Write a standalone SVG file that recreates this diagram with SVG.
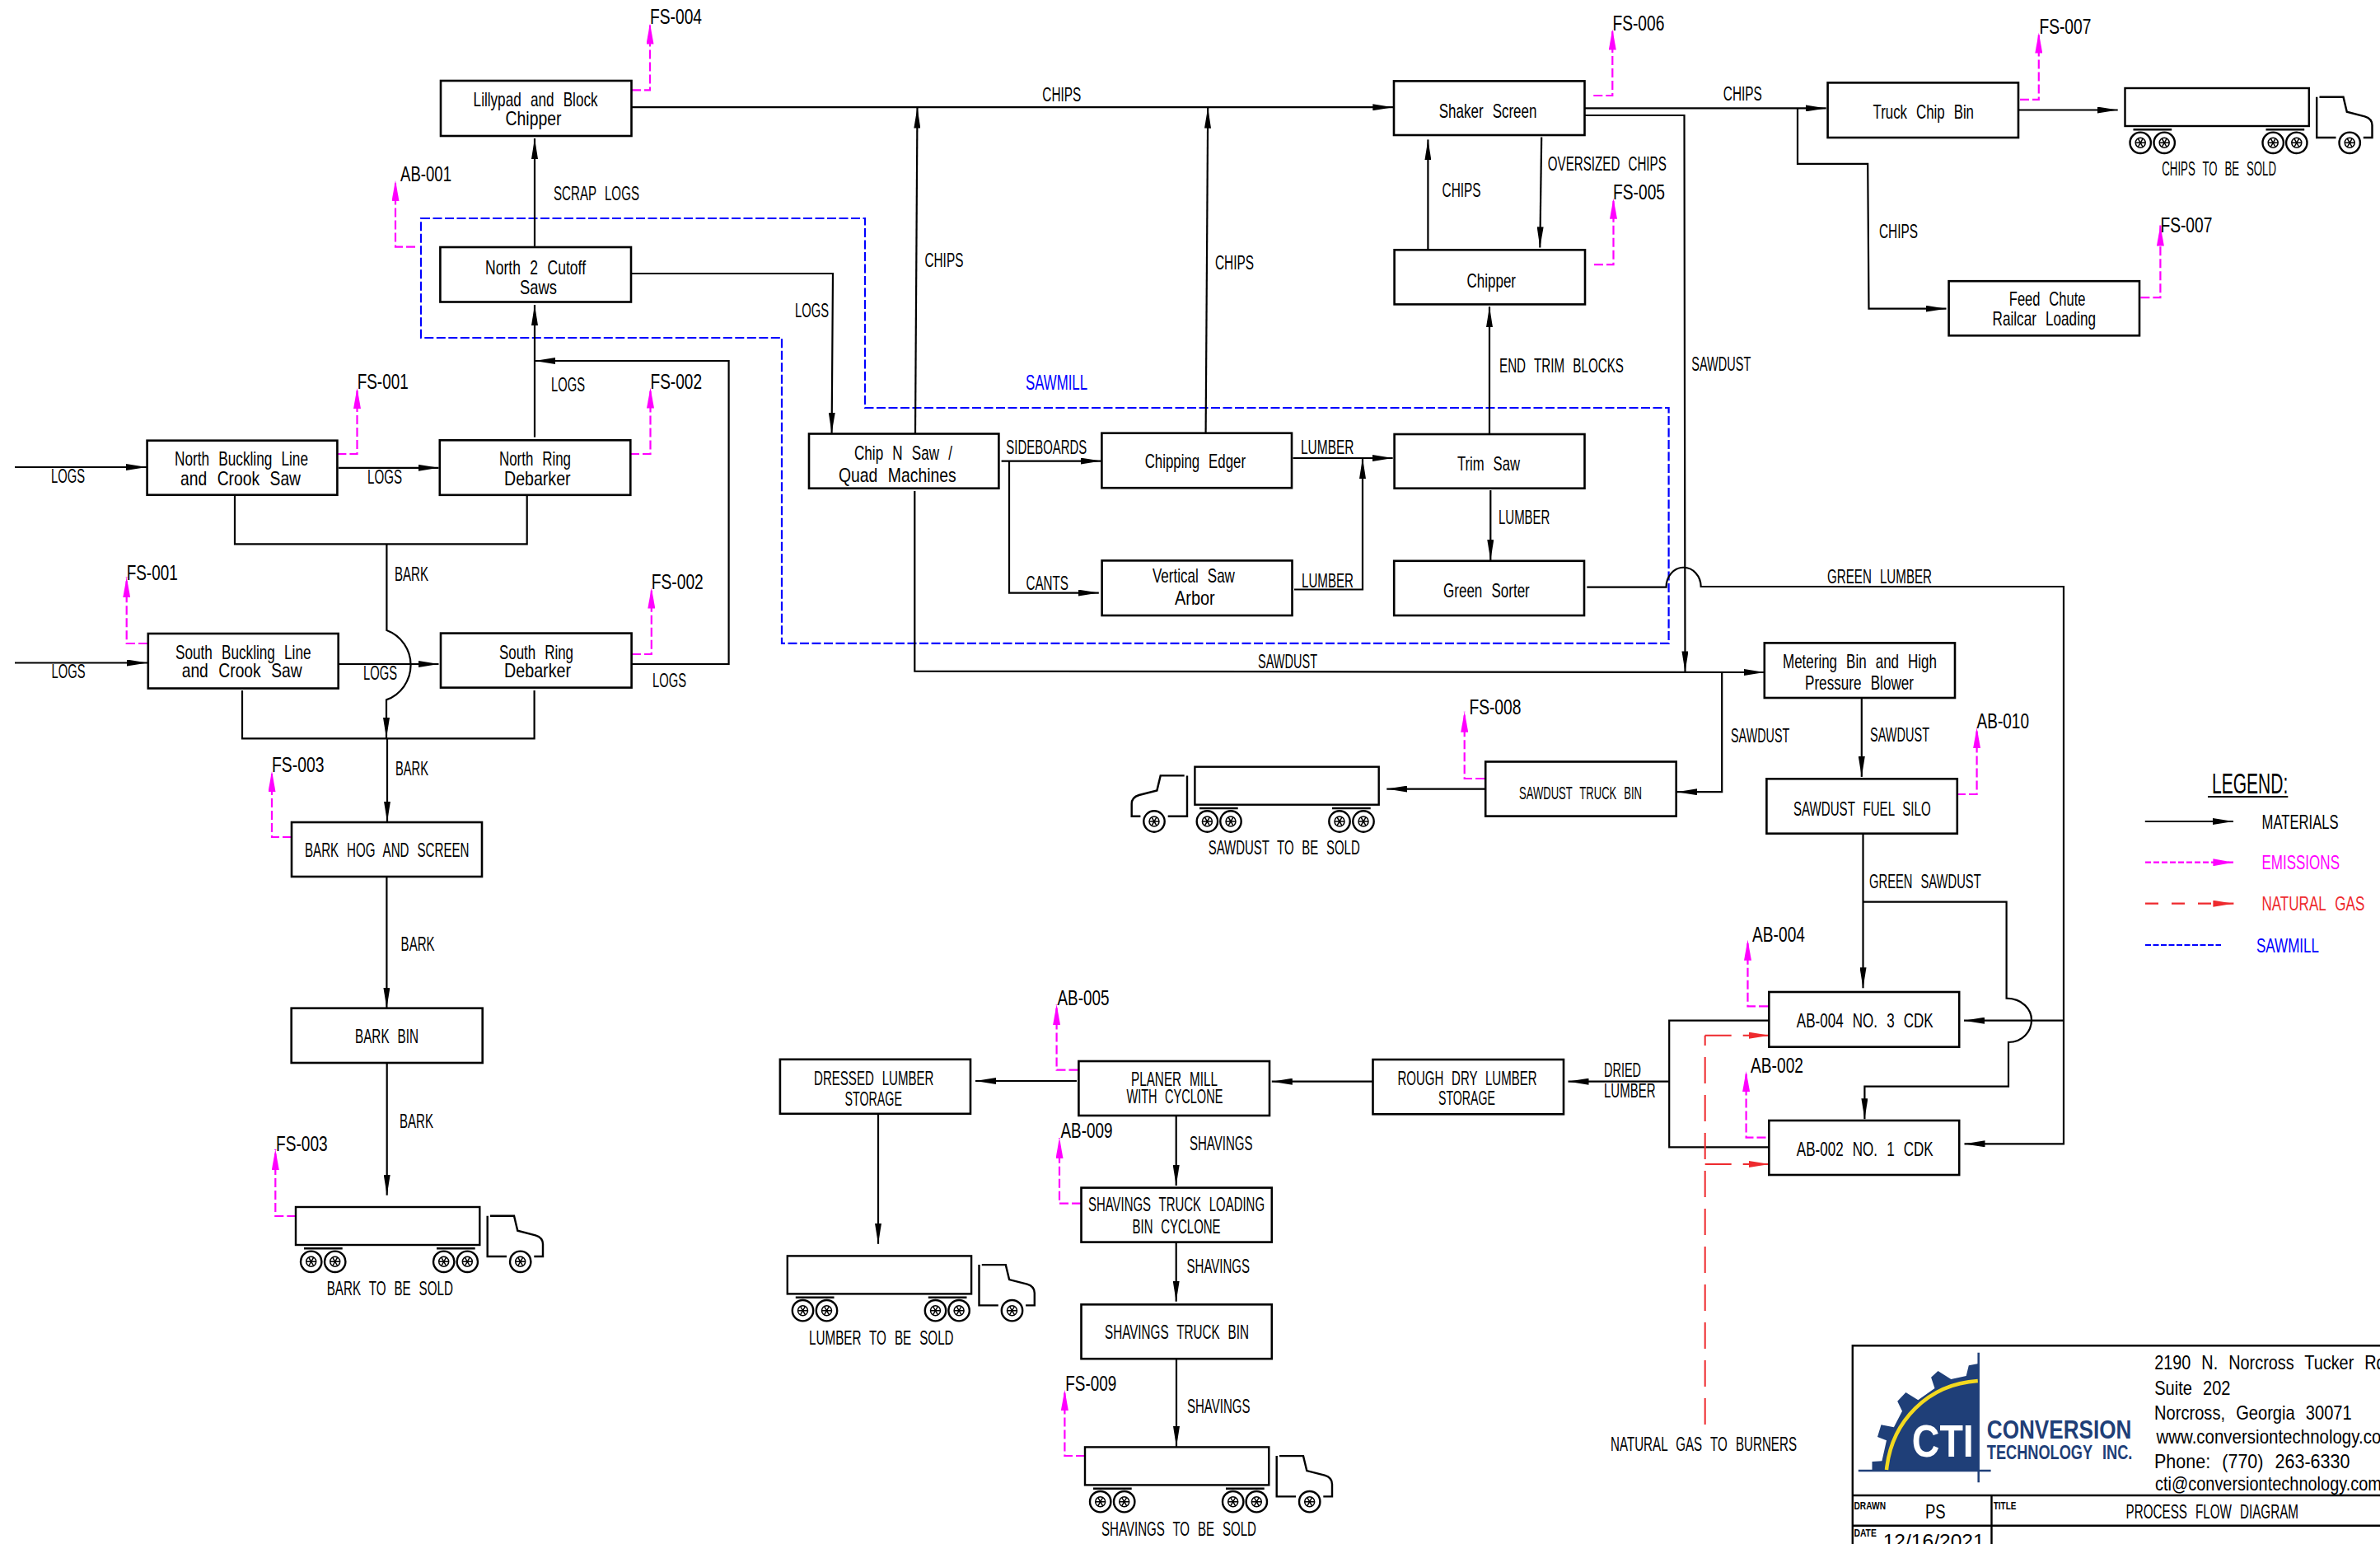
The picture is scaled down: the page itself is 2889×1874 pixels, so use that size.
<svg xmlns="http://www.w3.org/2000/svg" width="2889" height="1874" viewBox="0 0 2889 1874">
<style>
text{font-family:"Liberation Sans",Arial,sans-serif;font-size:24px;fill:#000;word-spacing:9px}
.fs{font-size:25px}
.sm{font-size:22px}
.lbl{font-size:23px}
.box{fill:#fff;stroke:#000;stroke-width:2.6}
.ln{fill:none;stroke:#000;stroke-width:2.2}
.a{marker-end:url(#ah)}
.em{fill:none;stroke:#f0f;stroke-width:2.2;stroke-dasharray:11 4;marker-end:url(#am)}
.ng{fill:none;stroke:#ee2a2e;stroke-width:2;stroke-dasharray:32 14}
.blue{fill:none;stroke:#00f;stroke-width:2.2;stroke-dasharray:11 3.5}
.tk{fill:none;stroke:#000;stroke-width:2.4}
.thin{fill:none;stroke:#000;stroke-width:1.5}
.tb{fill:none;stroke:#000;stroke-width:2.4}
.logo{fill:#1f3f78;stroke:none}
</style>
<defs>
<marker id="ah" markerUnits="userSpaceOnUse" markerWidth="25" markerHeight="8" refX="25" refY="4" orient="auto"><path d="M0 0L25 4L0 8z" fill="#000"/></marker>
<marker id="am" markerUnits="userSpaceOnUse" markerWidth="25" markerHeight="9" refX="25" refY="4.5" orient="auto"><path d="M0 0L25 4.5L0 9z" fill="#f0f"/></marker>
<marker id="ar" markerUnits="userSpaceOnUse" markerWidth="25" markerHeight="8" refX="25" refY="4" orient="auto"><path d="M0 0L25 4L0 8z" fill="#ee2a2e"/></marker>
<g id="wheel"><circle r="12.7" class="tk"/><circle r="6" class="thin"/><path d="M-6 0H6M-3 -5.2L3 5.2M3 -5.2L-3 5.2" class="thin"/></g>
<g id="truck">
<rect x="0" y="0" width="223.3" height="46" class="tk"/>
<path d="M10 50.3H56.7M171 50.3H217.7" class="tk"/>
<use href="#wheel" x="18.7" y="66.3"/><use href="#wheel" x="47.7" y="66.3"/><use href="#wheel" x="179.7" y="66.3"/><use href="#wheel" x="208.3" y="66.3"/>
<path d="M232.7 10.7V60H256M289.3 60H300V45Q300 37 291 34.3L269.3 28.7L265 10.7H236" class="tk"/>
<use href="#wheel" x="272.7" y="66.3"/>
</g>
</defs>
<rect width="2889" height="1874" fill="#fff"/>

<g id="boundary"><path class="blue" d="M511 265H1050V495H2025.6V780.8H949V410H511Z"/></g>

<g id="connectors">
<path class="ln a" d="M18 567H178"/>
<path class="ln a" d="M411 567.8H532.5"/>
<path class="ln a" d="M18 804.5H179"/>
<path class="ln a" d="M411 806H532.5"/>
<path class="ln a" d="M649 530.6V370"/>
<path class="ln a" d="M649 298.8V168"/>
<path class="ln a" d="M767 806H884.6V438H649"/>
<path class="ln a" d="M766 332H1011L1009.6 525.7"/>
<path class="ln" d="M285 601V660.4H639.7V601"/>
<path class="ln a" d="M469.4 660V765A45 45 0 0 1 469 849.4V896"/>
<path class="ln" d="M294 838V896.3H648.6V838"/>
<path class="ln a" d="M470 896V997.6"/>
<path class="ln a" d="M469.4 1064V1223.7"/>
<path class="ln a" d="M469.7 1290V1450.7"/>
<path class="ln a" d="M766.5 130.2H1691.3"/>
<path class="ln a" d="M1111 526.5L1113.5 130.6"/>
<path class="ln a" d="M1463.6 525.7L1466.2 130.6"/>
<path class="ln a" d="M1733.4 302V169.4"/>
<path class="ln a" d="M1871.2 166.5L1869.3 300.4"/>
<path class="ln a" d="M1808 526.5V372.2"/>
<path class="ln a" d="M1215.6 559.6H1336.7"/>
<path class="ln a" d="M1225 559.6V719.6H1333.8"/>
<path class="ln a" d="M1569.5 556H1690.7"/>
<path class="ln a" d="M1571 715.5H1654V556"/>
<path class="ln a" d="M1809.3 595V680"/>
<path class="ln a" d="M1110.3 596V814.7L2141.8 816"/>
<path class="ln a" d="M1923 131.4H2216.7"/>
<path class="ln a" d="M1923 140H2044.5L2045.5 815.5"/>
<path class="ln a" d="M2182 131V198.8H2267.2L2268.5 374.7H2362.5"/>
<path class="ln a" d="M2450 133.5H2570.7"/>
<path class="ln a" d="M1926.3 712.6H2022.6A21 23.5 0 0 1 2064.7 712H2505V1388.3H2384.5"/>
<path class="ln a" d="M2505 1238.7H2384"/>
<path class="ln a" d="M2090.2 816V961.2H2035.3"/>
<path class="ln a" d="M1803 957.6H1683.3"/>
<path class="ln a" d="M2259.8 848V942.9"/>
<path class="ln a" d="M2261.5 1012V1199.3"/>
<path class="ln a" d="M2261.5 1094.7H2435.6V1211.7C2455 1212 2466 1225 2466 1238C2466 1252 2455 1265 2438 1265V1318.7H2263.4V1358.3"/>
<path class="ln" d="M2147 1238.7H2026.2V1392.3H2147"/>
<path class="ln a" d="M2026.2 1312.7H1903.5"/>
<path class="ln a" d="M1666.5 1312.7H1543.8"/>
<path class="ln a" d="M1307 1312H1184"/>
<path class="ln a" d="M1066 1352V1509.8"/>
<path class="ln a" d="M1427.7 1354V1439"/>
<path class="ln a" d="M1427.7 1507.6V1579.7"/>
<path class="ln a" d="M1428 1649.2V1756"/>
<path class="em" d="M767 109.4H789V28.6"/>
<path class="em" d="M504 299.6H480V219"/>
<path class="em" d="M409.4 551H433.5V471"/>
<path class="em" d="M765 551H789.5V470.6"/>
<path class="em" d="M179 781H153.7V700.4"/>
<path class="em" d="M767 794H790.8V713.5"/>
<path class="em" d="M354 1016H330V936"/>
<path class="em" d="M359.3 1476H334.3V1395"/>
<path class="em" d="M1934.3 116H1957.3V35.5"/>
<path class="em" d="M1935 321.2H1958.5V240.8"/>
<path class="em" d="M2452 120.8H2474.8V39.6"/>
<path class="em" d="M2598.4 361.2H2622.4V273.5"/>
<path class="em" d="M1802 945H1777.7V863.7"/>
<path class="em" d="M2375 964H2399.6V883.3"/>
<path class="em" d="M2146 1221.3H2121.5V1140.7"/>
<path class="em" d="M2143.5 1380.7H2119.6V1300"/>
<path class="em" d="M1308.5 1298.6H1282.6V1219"/>
<path class="em" d="M1312 1460.7H1286V1381"/>
<path class="em" d="M1317 1767H1292.4V1686.9"/>
<path class="ng" d="M2069.7 1729V1256.7"/>
<path class="ng" d="M2069.7 1256.7H2148" style="marker-end:url(#ar)"/>
<path class="ng" d="M2069.7 1413H2148" style="marker-end:url(#ar)"/>
</g>

<g id="connector-labels">
<text class="lbl" x="62" y="586" textLength="41" lengthAdjust="spacingAndGlyphs">LOGS</text>
<text class="lbl" x="446" y="587" textLength="42" lengthAdjust="spacingAndGlyphs">LOGS</text>
<text class="lbl" x="62.5" y="823" textLength="41" lengthAdjust="spacingAndGlyphs">LOGS</text>
<text class="lbl" x="441" y="824.5" textLength="41" lengthAdjust="spacingAndGlyphs">LOGS</text>
<text class="lbl" x="792" y="833.5" textLength="41" lengthAdjust="spacingAndGlyphs">LOGS</text>
<text class="lbl" x="669" y="475" textLength="41" lengthAdjust="spacingAndGlyphs">LOGS</text>
<text class="lbl" x="965" y="384.5" textLength="41" lengthAdjust="spacingAndGlyphs">LOGS</text>
<text class="lbl" x="672" y="243" textLength="104" lengthAdjust="spacingAndGlyphs">SCRAP LOGS</text>
<text class="lbl" x="479" y="705" textLength="41" lengthAdjust="spacingAndGlyphs">BARK</text>
<text class="lbl" x="480" y="941" textLength="40" lengthAdjust="spacingAndGlyphs">BARK</text>
<text class="lbl" x="486.6" y="1153.5" textLength="41" lengthAdjust="spacingAndGlyphs">BARK</text>
<text class="lbl" x="485" y="1369" textLength="41" lengthAdjust="spacingAndGlyphs">BARK</text>
<text class="lbl" x="1265.3" y="122.9" textLength="47" lengthAdjust="spacingAndGlyphs">CHIPS</text>
<text class="lbl" x="1122.4" y="323.7" textLength="47" lengthAdjust="spacingAndGlyphs">CHIPS</text>
<text class="lbl" x="1475" y="326.5" textLength="47" lengthAdjust="spacingAndGlyphs">CHIPS</text>
<text class="lbl" x="1750.6" y="238.8" textLength="47" lengthAdjust="spacingAndGlyphs">CHIPS</text>
<text class="lbl" x="2091.8" y="122.4" textLength="47" lengthAdjust="spacingAndGlyphs">CHIPS</text>
<text class="lbl" x="2281" y="289" textLength="47" lengthAdjust="spacingAndGlyphs">CHIPS</text>
<text class="lbl" x="1878.8" y="207.3" textLength="144" lengthAdjust="spacingAndGlyphs">OVERSIZED CHIPS</text>
<text class="lbl" x="1820" y="452.2" textLength="151" lengthAdjust="spacingAndGlyphs">END TRIM BLOCKS</text>
<text class="lbl" x="1221.3" y="551.4" textLength="98" lengthAdjust="spacingAndGlyphs">SIDEBOARDS</text>
<text class="lbl" x="1579" y="551" textLength="64.5" lengthAdjust="spacingAndGlyphs">LUMBER</text>
<text class="lbl" x="1580" y="712.6" textLength="63" lengthAdjust="spacingAndGlyphs">LUMBER</text>
<text class="lbl" x="1819" y="636" textLength="62.4" lengthAdjust="spacingAndGlyphs">LUMBER</text>
<text class="lbl" x="1245.5" y="716" textLength="51.5" lengthAdjust="spacingAndGlyphs">CANTS</text>
<text class="lbl" x="1527" y="810.6" textLength="72" lengthAdjust="spacingAndGlyphs">SAWDUST</text>
<text class="lbl" x="2053.3" y="449.8" textLength="72" lengthAdjust="spacingAndGlyphs">SAWDUST</text>
<text class="lbl" x="2101" y="901.2" textLength="71.4" lengthAdjust="spacingAndGlyphs">SAWDUST</text>
<text class="lbl" x="2270" y="900.4" textLength="72" lengthAdjust="spacingAndGlyphs">SAWDUST</text>
<text class="lbl" x="2218" y="708" textLength="127" lengthAdjust="spacingAndGlyphs">GREEN LUMBER</text>
<text class="lbl" x="2269" y="1078.3" textLength="135.7" lengthAdjust="spacingAndGlyphs">GREEN SAWDUST</text>
<text class="lbl" x="1947" y="1306.7" textLength="45" lengthAdjust="spacingAndGlyphs">DRIED</text>
<text class="lbl" x="1947" y="1332.3" textLength="62.5" lengthAdjust="spacingAndGlyphs">LUMBER</text>
<text class="lbl" x="1444" y="1395.6" textLength="76.5" lengthAdjust="spacingAndGlyphs">SHAVINGS</text>
<text class="lbl" x="1440.6" y="1544.8" textLength="76.4" lengthAdjust="spacingAndGlyphs">SHAVINGS</text>
<text class="lbl" x="1441" y="1714.8" textLength="76.4" lengthAdjust="spacingAndGlyphs">SHAVINGS</text>
<text class="lbl" x="1955" y="1761" textLength="226" lengthAdjust="spacingAndGlyphs">NATURAL GAS TO BURNERS</text>
<text class="fs" x="1245" y="472.7" textLength="75" lengthAdjust="spacingAndGlyphs" style="fill:#00f">SAWMILL</text>
</g>

<g id="emission-labels">
<text class="fs" x="789" y="29.4" textLength="63" lengthAdjust="spacingAndGlyphs">FS-004</text>
<text class="fs" x="486" y="220" textLength="62" lengthAdjust="spacingAndGlyphs">AB-001</text>
<text class="fs" x="433.7" y="472" textLength="62" lengthAdjust="spacingAndGlyphs">FS-001</text>
<text class="fs" x="789.5" y="472" textLength="62.5" lengthAdjust="spacingAndGlyphs">FS-002</text>
<text class="fs" x="153.7" y="704" textLength="62" lengthAdjust="spacingAndGlyphs">FS-001</text>
<text class="fs" x="790.8" y="715" textLength="63" lengthAdjust="spacingAndGlyphs">FS-002</text>
<text class="fs" x="330" y="936.7" textLength="63.5" lengthAdjust="spacingAndGlyphs">FS-003</text>
<text class="fs" x="335" y="1397" textLength="62.7" lengthAdjust="spacingAndGlyphs">FS-003</text>
<text class="fs" x="1957.4" y="36.7" textLength="63" lengthAdjust="spacingAndGlyphs">FS-006</text>
<text class="fs" x="1958" y="241.6" textLength="63" lengthAdjust="spacingAndGlyphs">FS-005</text>
<text class="fs" x="2475.4" y="40.8" textLength="63" lengthAdjust="spacingAndGlyphs">FS-007</text>
<text class="fs" x="2622.4" y="282" textLength="63" lengthAdjust="spacingAndGlyphs">FS-007</text>
<text class="fs" x="1783.4" y="866.5" textLength="63" lengthAdjust="spacingAndGlyphs">FS-008</text>
<text class="fs" x="2399.6" y="884" textLength="63.4" lengthAdjust="spacingAndGlyphs">AB-010</text>
<text class="fs" x="2127" y="1142.7" textLength="64" lengthAdjust="spacingAndGlyphs">AB-004</text>
<text class="fs" x="2125" y="1302.3" textLength="64" lengthAdjust="spacingAndGlyphs">AB-002</text>
<text class="fs" x="1283.5" y="1219.8" textLength="63" lengthAdjust="spacingAndGlyphs">AB-005</text>
<text class="fs" x="1287.5" y="1381.4" textLength="63" lengthAdjust="spacingAndGlyphs">AB-009</text>
<text class="fs" x="1293.3" y="1688.2" textLength="62" lengthAdjust="spacingAndGlyphs">FS-009</text>
</g>

<g id="lillypad-chipper"><rect class="box" x="535" y="98" width="231.5" height="67"/><text x="574.6" y="128.6" textLength="151" lengthAdjust="spacingAndGlyphs">Lillypad and Block</text><text x="613.5" y="151.8" textLength="68" lengthAdjust="spacingAndGlyphs">Chipper</text></g>
<g id="north-2-cutoff"><rect class="box" x="534.4" y="300" width="231.6" height="66.5"/><text x="589" y="332.6" textLength="122" lengthAdjust="spacingAndGlyphs">North 2 Cutoff</text><text x="631" y="357" textLength="45" lengthAdjust="spacingAndGlyphs">Saws</text></g>
<g id="north-buckling"><rect class="box" x="178.6" y="534.7" width="230.8" height="66"/><text x="212" y="565" textLength="162" lengthAdjust="spacingAndGlyphs">North Buckling Line</text><text x="219" y="588.6" textLength="146" lengthAdjust="spacingAndGlyphs">and Crook Saw</text></g>
<g id="north-ring"><rect class="box" x="533.8" y="534.3" width="231.5" height="66.5"/><text x="606" y="565" textLength="87" lengthAdjust="spacingAndGlyphs">North Ring</text><text x="612" y="589" textLength="80.6" lengthAdjust="spacingAndGlyphs">Debarker</text></g>
<g id="south-buckling"><rect class="box" x="179.8" y="769" width="230.9" height="66.5"/><text x="213" y="800" textLength="164.5" lengthAdjust="spacingAndGlyphs">South Buckling Line</text><text x="220.7" y="822.4" textLength="146" lengthAdjust="spacingAndGlyphs">and Crook Saw</text></g>
<g id="south-ring"><rect class="box" x="535" y="768.6" width="231.6" height="66"/><text x="606" y="800" textLength="90" lengthAdjust="spacingAndGlyphs">South Ring</text><text x="612" y="821.6" textLength="81" lengthAdjust="spacingAndGlyphs">Debarker</text></g>
<g id="bark-hog"><rect class="box" x="354" y="998" width="231" height="66"/><text x="370" y="1040" textLength="199.5" lengthAdjust="spacingAndGlyphs">BARK HOG AND SCREEN</text></g>
<g id="bark-bin"><rect class="box" x="353.7" y="1223.7" width="232" height="66.3"/><text x="431" y="1265.7" textLength="77" lengthAdjust="spacingAndGlyphs">BARK BIN</text></g>
<g id="chip-n-saw"><rect class="box" x="982" y="526.5" width="230.4" height="66.2"/><text x="1037" y="558" textLength="119" lengthAdjust="spacingAndGlyphs">Chip N Saw /</text><text x="1017.9" y="585" textLength="142.8" lengthAdjust="spacingAndGlyphs">Quad Machines</text></g>
<g id="chipping-edger"><rect class="box" x="1337.4" y="525.7" width="230.6" height="66.5"/><text x="1389.7" y="568.2" textLength="122.3" lengthAdjust="spacingAndGlyphs">Chipping Edger</text></g>
<g id="vertical-saw"><rect class="box" x="1337.6" y="680.4" width="230.9" height="66.6"/><text x="1398.9" y="707.3" textLength="100" lengthAdjust="spacingAndGlyphs">Vertical Saw</text><text x="1426" y="733.9" textLength="48.7" lengthAdjust="spacingAndGlyphs">Arbor</text></g>
<g id="shaker-screen"><rect class="box" x="1692" y="98.4" width="231.5" height="65.6"/><text x="1746.8" y="142.9" textLength="118.6" lengthAdjust="spacingAndGlyphs">Shaker Screen</text></g>
<g id="chipper"><rect class="box" x="1692.6" y="303.3" width="231.4" height="66.1"/><text x="1780.6" y="349" textLength="59.4" lengthAdjust="spacingAndGlyphs">Chipper</text></g>
<g id="trim-saw"><rect class="box" x="1692.6" y="527" width="230.9" height="65.7"/><text x="1769" y="570.6" textLength="76" lengthAdjust="spacingAndGlyphs">Trim Saw</text></g>
<g id="green-sorter"><rect class="box" x="1692.2" y="680.8" width="230.8" height="66.2"/><text x="1752" y="724.5" textLength="104.8" lengthAdjust="spacingAndGlyphs">Green Sorter</text></g>
<g id="truck-chip-bin"><rect class="box" x="2218.6" y="100.4" width="231.4" height="66.6"/><text x="2273.5" y="144" textLength="122.5" lengthAdjust="spacingAndGlyphs">Truck Chip Bin</text></g>
<g id="feed-chute"><rect class="box" x="2365.6" y="341.2" width="231.4" height="66.1"/><text x="2438.8" y="370.6" textLength="92.7" lengthAdjust="spacingAndGlyphs">Feed Chute</text><text x="2418.6" y="395" textLength="125.4" lengthAdjust="spacingAndGlyphs">Railcar Loading</text></g>
<g id="metering-bin"><rect class="box" x="2141.8" y="780.4" width="231.2" height="66.6"/><text x="2164" y="810.6" textLength="187" lengthAdjust="spacingAndGlyphs">Metering Bin and High</text><text x="2191" y="836.7" textLength="132" lengthAdjust="spacingAndGlyphs">Pressure Blower</text></g>
<g id="sawdust-truck-bin"><rect class="box" x="1803.2" y="924.5" width="231.5" height="66.1"/><text class="sm" x="1844" y="969.8" textLength="149" lengthAdjust="spacingAndGlyphs">SAWDUST TRUCK BIN</text></g>
<g id="sawdust-fuel-silo"><rect class="box" x="2144.4" y="945.3" width="231.4" height="66.4"/><text x="2177" y="990.2" textLength="166.7" lengthAdjust="spacingAndGlyphs">SAWDUST FUEL SILO</text></g>
<g id="ab-004"><rect class="box" x="2147.3" y="1204" width="230.9" height="66.7"/><text x="2180.8" y="1246.7" textLength="165.9" lengthAdjust="spacingAndGlyphs">AB-004 NO. 3 CDK</text></g>
<g id="ab-002"><rect class="box" x="2147.3" y="1360" width="230.9" height="66"/><text x="2180.8" y="1402.7" textLength="165.9" lengthAdjust="spacingAndGlyphs">AB-002 NO. 1 CDK</text></g>
<g id="rough-dry"><rect class="box" x="1666.5" y="1286" width="231.5" height="66.3"/><text x="1696.5" y="1316.7" textLength="169" lengthAdjust="spacingAndGlyphs">ROUGH DRY LUMBER</text><text x="1746" y="1341.3" textLength="69" lengthAdjust="spacingAndGlyphs">STORAGE</text></g>
<g id="planer-mill"><rect class="box" x="1309.4" y="1288" width="231.6" height="66"/><text x="1373" y="1317.7" textLength="105" lengthAdjust="spacingAndGlyphs">PLANER MILL</text><text x="1367.4" y="1338.9" textLength="117" lengthAdjust="spacingAndGlyphs">WITH CYCLONE</text></g>
<g id="dressed-lumber"><rect class="box" x="946.9" y="1285.8" width="231.1" height="66"/><text x="988" y="1317.2" textLength="145.5" lengthAdjust="spacingAndGlyphs">DRESSED LUMBER</text><text x="1025.4" y="1341.6" textLength="69.6" lengthAdjust="spacingAndGlyphs">STORAGE</text></g>
<g id="shavings-loading"><rect class="box" x="1312.5" y="1441.6" width="231.3" height="66"/><text x="1321" y="1470" textLength="214" lengthAdjust="spacingAndGlyphs">SHAVINGS TRUCK LOADING</text><text x="1374.6" y="1496.5" textLength="107" lengthAdjust="spacingAndGlyphs">BIN CYCLONE</text></g>
<g id="shavings-bin"><rect class="box" x="1312.5" y="1583.3" width="231.3" height="65.9"/><text x="1341" y="1624.9" textLength="175" lengthAdjust="spacingAndGlyphs">SHAVINGS TRUCK BIN</text></g>

<g id="truck-bark"><use href="#truck" transform="translate(359 1465)"/><text x="396.7" y="1572.3" textLength="153.3" lengthAdjust="spacingAndGlyphs">BARK TO BE SOLD</text></g>
<g id="truck-chips"><use href="#truck" transform="translate(2579.5 107)"/><text class="lbl" x="2624.3" y="212.7" textLength="138.7" lengthAdjust="spacingAndGlyphs">CHIPS TO BE SOLD</text></g>
<g id="truck-sawdust"><use href="#truck" transform="translate(1673.7 930.7) scale(-1 1)"/><text x="1466.7" y="1037" textLength="184" lengthAdjust="spacingAndGlyphs">SAWDUST TO BE SOLD</text></g>
<g id="truck-lumber"><use href="#truck" transform="translate(955.8 1524.4)"/><text x="982" y="1631.5" textLength="175.6" lengthAdjust="spacingAndGlyphs">LUMBER TO BE SOLD</text></g>
<g id="truck-shavings"><use href="#truck" transform="translate(1317 1756.4)"/><text x="1337" y="1863.9" textLength="188" lengthAdjust="spacingAndGlyphs">SHAVINGS TO BE SOLD</text></g>

<g id="legend">
<text x="2685" y="963.3" textLength="92.3" lengthAdjust="spacingAndGlyphs" style="font-size:35px">LEGEND:</text>
<path class="ln" d="M2680 967H2777.3"/>
<path class="ln a" d="M2603.8 997H2710.9"/>
<text x="2745.6" y="1005.7" textLength="93" lengthAdjust="spacingAndGlyphs">MATERIALS</text>
<path d="M2604 1046.7H2711.4" fill="none" stroke="#f0f" stroke-width="2.2" stroke-dasharray="7 3" style="marker-end:url(#am)"/>
<text x="2745.4" y="1055" textLength="94.6" lengthAdjust="spacingAndGlyphs" style="fill:#f0f">EMISSIONS</text>
<path d="M2604 1096.7H2711.4" fill="none" stroke="#ee2a2e" stroke-width="2.2" stroke-dasharray="16 16" style="marker-end:url(#ar)"/>
<text x="2745.4" y="1105.3" textLength="125" lengthAdjust="spacingAndGlyphs" style="fill:#ee2a2e">NATURAL GAS</text>
<path d="M2604 1147H2696" fill="none" stroke="#00f" stroke-width="2.2" stroke-dasharray="7 2.5"/>
<text x="2739" y="1155.7" textLength="76" lengthAdjust="spacingAndGlyphs" style="fill:#00f">SAWMILL</text>
</g>

<g id="title-block">
<path class="tb" d="M2889 1633.3H2248.8V1874M2248.8 1815H2889M2248.8 1851.7H2889M2417.5 1815V1874"/>
<path class="logo" d="M2401.7 1784L2272.5 1784V1774L2284.4 1773.3L2290 1748.3L2279 1744L2283.5 1729.3L2298.9 1732.3L2309 1712.7L2303.2 1700.7L2313.4 1690L2328.3 1699.3L2348.5 1685L2344.1 1671.7L2352.5 1664L2368.3 1674L2386.7 1670L2389.8 1657.3L2401.7 1655Z"/>
<path d="M2401.7 1641.7V1799.3M2255.8 1785H2416.6" fill="none" stroke="#1f3f78" stroke-width="2.5"/>
<path d="M2290 1784C2296 1725 2340 1680 2400.8 1676" fill="none" stroke="#f3d91f" stroke-width="4.5"/>
<text x="2320.8" y="1768" textLength="75" lengthAdjust="spacingAndGlyphs" style="font-size:56px;font-weight:bold;fill:#fff">CTI</text>
<text x="2411.8" y="1745.7" textLength="175.7" lengthAdjust="spacingAndGlyphs" style="font-size:32px;font-weight:bold;fill:#1f3f78">CONVERSION</text>
<text x="2411.8" y="1770.7" textLength="176.6" lengthAdjust="spacingAndGlyphs" style="font-size:23px;font-weight:bold;fill:#1f3f78">TECHNOLOGY INC.</text>
<text x="2615.2" y="1661.7" textLength="286" lengthAdjust="spacingAndGlyphs">2190 N. Norcross Tucker Rd.</text>
<text x="2615.2" y="1692.7" textLength="92.3" lengthAdjust="spacingAndGlyphs">Suite 202</text>
<text x="2615" y="1722.7" textLength="239.7" lengthAdjust="spacingAndGlyphs">Norcross, Georgia 30071</text>
<text x="2617.4" y="1751.7" textLength="290" lengthAdjust="spacingAndGlyphs">www.conversiontechnology.com</text>
<text x="2615" y="1781.7" textLength="237.5" lengthAdjust="spacingAndGlyphs">Phone: (770) 263-6330</text>
<text x="2616" y="1809.3" textLength="275" lengthAdjust="spacingAndGlyphs">cti@conversiontechnology.com</text>
<text x="2250.5" y="1832.3" textLength="38.5" lengthAdjust="spacingAndGlyphs" style="font-size:12px;font-weight:bold">DRAWN</text>
<text x="2337" y="1843.3" textLength="24.7" lengthAdjust="spacingAndGlyphs">PS</text>
<text x="2419.7" y="1832" textLength="27.7" lengthAdjust="spacingAndGlyphs" style="font-size:12px;font-weight:bold">TITLE</text>
<text x="2580.5" y="1843.3" textLength="209.5" lengthAdjust="spacingAndGlyphs">PROCESS FLOW DIAGRAM</text>
<text x="2250.5" y="1865" textLength="27.3" lengthAdjust="spacingAndGlyphs" style="font-size:12px;font-weight:bold">DATE</text>
<text x="2285.7" y="1879" textLength="123" lengthAdjust="spacingAndGlyphs">12/16/2021</text>
</g>
</svg>
